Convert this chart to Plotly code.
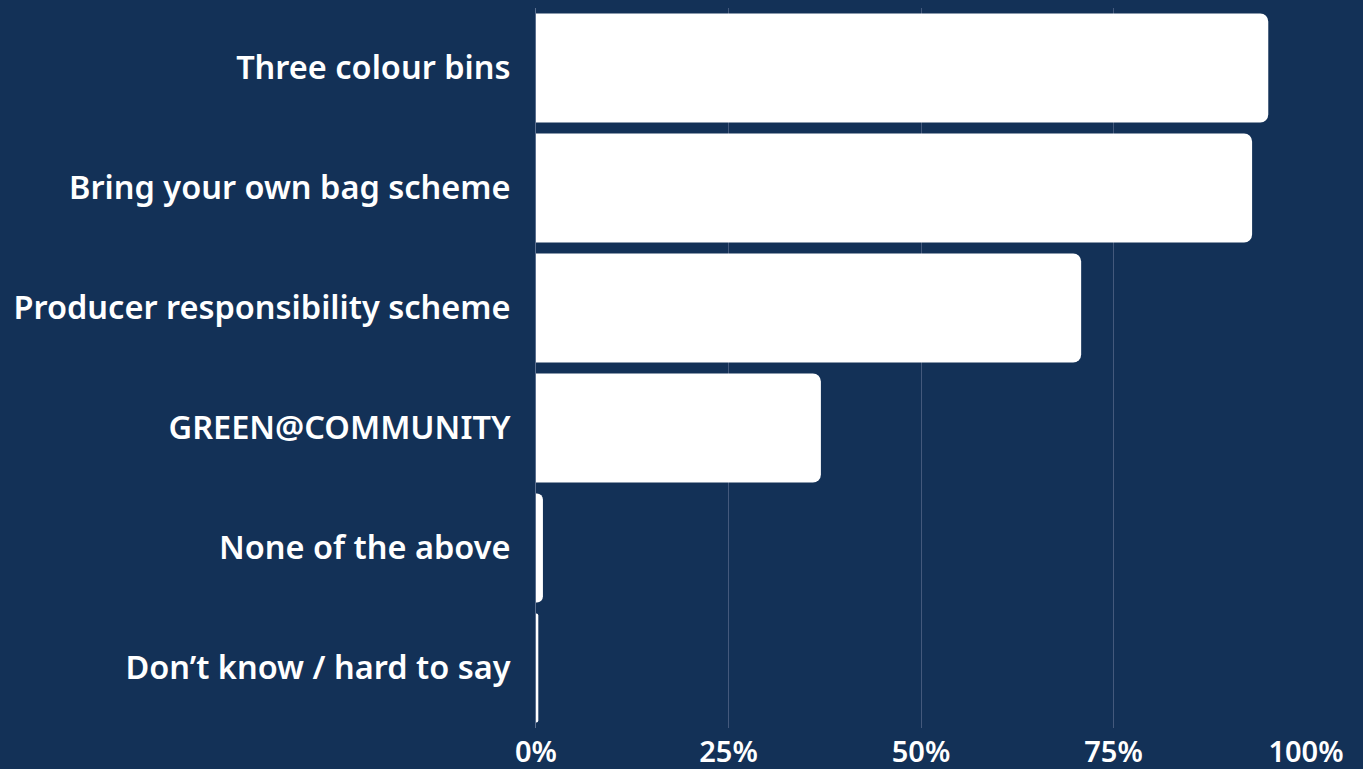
import plotly.graph_objects as go

categories = [
    "Three colour bins",
    "Bring your own bag scheme",
    "Producer responsibility scheme",
    "GREEN@COMMUNITY",
    "None of the above",
    "Don\u2019t know / hard to say",
]
values = [95.1, 93.0, 70.8, 37.0, 0.9, 0.3]
tick_vals = [0, 25, 50, 75, 100]
tick_text = ["0%", "25%", "50%", "75%", "100%"]

bg = "#133157"
font_family = "Noto Sans, Arial, sans-serif"

fig = go.Figure(
    go.Bar(
        x=values,
        y=categories,
        orientation="h",
        marker=dict(color="#ffffff", line=dict(width=0)),
        hoverinfo="x+y",
    )
)

fig.update_layout(
    width=1363,
    height=769,
    paper_bgcolor=bg,
    plot_bgcolor=bg,
    margin=dict(l=536, r=57, t=8, b=41),
    bargap=0.09,
    barcornerradius=8,
    showlegend=False,
    font=dict(family=font_family, color="#ffffff", size=28),
)

fig.update_xaxes(
    range=[0, 100],
    tickvals=tick_vals,
    ticktext=tick_text,
    showgrid=True,
    gridcolor="#44597c",
    gridwidth=1,
    zeroline=False,
    showline=False,
    automargin=False,
    ticklabelstandoff=4,
    tickfont=dict(family=font_family, size=29, color="#ffffff", weight=600),
    fixedrange=True,
)

fig.update_yaxes(
    categoryorder="array",
    categoryarray=categories[::-1],
    showgrid=False,
    zeroline=False,
    showline=True,
    linecolor="#5a6e8e",
    linewidth=1,
    automargin=False,
    ticklabelstandoff=18,
    tickfont=dict(family=font_family, size=32.5, color="#ffffff", weight=600),
    fixedrange=True,
)

fig.write_html(
    "out.html",
    config={"displayModeBar": False},
    post_script="document.body.style.margin='0';document.body.style.background='%s';" % bg,
)
